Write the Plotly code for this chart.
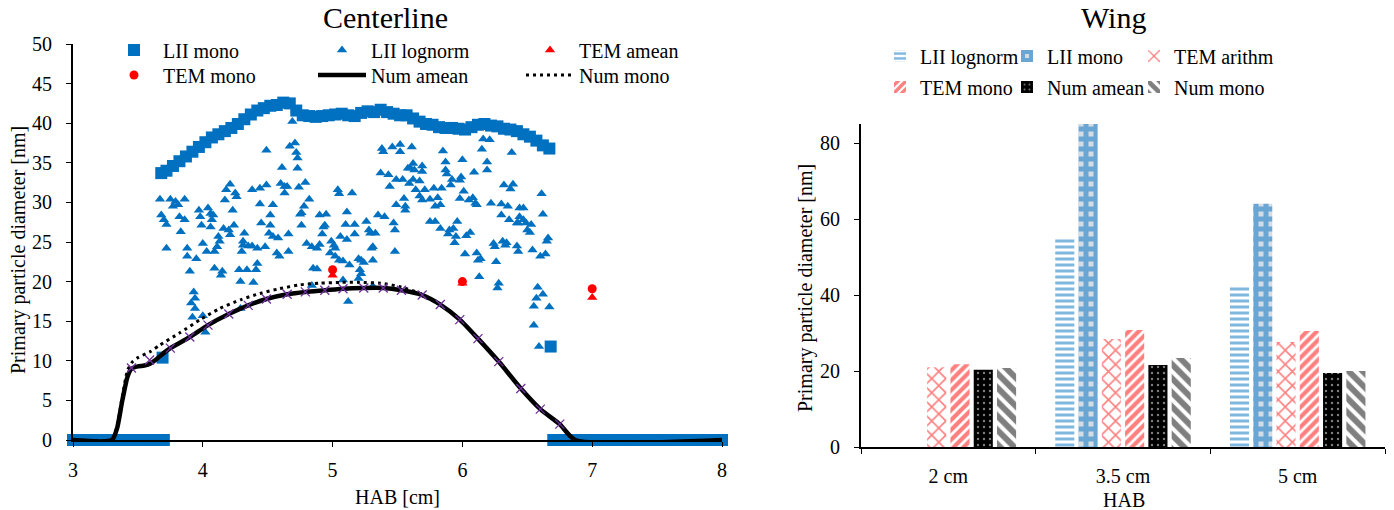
import plotly.graph_objects as go

W, H = 1394, 510
FONT = "Liberation Serif, DejaVu Serif, serif"
BLUE = "#0070C0"
RED = "#FF0000"
PURPLE = "#7030A0"

# ---------------- Centerline data ----------------
# LII zero readings (outside the sooting region)
lii_zero_hab = [3.00, 3.05, 3.10, 3.15, 3.20, 3.25, 3.30, 3.35, 3.40, 3.45, 3.50, 3.55, 3.60, 3.65, 3.70,
                6.70, 6.75, 6.80, 6.85, 6.90, 6.95, 7.00, 7.05, 7.10, 7.15, 7.20, 7.25, 7.30, 7.35, 7.40,
                7.45, 7.50, 7.55, 7.60, 7.65, 7.70, 7.75, 7.80, 7.85, 7.90, 7.95, 8.00]
lii_zero_d = [0, 0, 0, 0, 0, 0, 0, 0, 0, 0, 0, 0, 0, 0, 0,
              0, 0, 0, 0, 0, 0, 0, 0, 0, 0, 0, 0, 0, 0, 0,
              0, 0, 0, 0, 0, 0, 0, 0, 0, 0, 0, 0]

# LII mono
lii_mono_hab = [3.69, 3.68, 3.72, 3.77, 3.82, 3.87, 3.92, 3.97, 4.02, 4.07, 4.12, 4.17, 4.22, 4.27, 4.32,
                4.37, 4.42, 4.47, 4.52, 4.57, 4.62, 4.67, 4.72, 4.77, 4.82, 4.87, 4.92, 4.97, 5.02,
                5.07, 5.12, 5.17, 5.22, 5.27, 5.32, 5.37, 5.42, 5.47, 5.52, 5.57, 5.62, 5.67, 5.72,
                5.77, 5.82, 5.87, 5.92, 5.97, 6.02, 6.07, 6.12, 6.17, 6.22, 6.27, 6.32, 6.37, 6.42,
                6.47, 6.52, 6.57, 6.62, 6.67, 6.68]
lii_mono_d = [10.4, 33.7, 34.0, 34.6, 35.2, 35.8, 36.4, 37.0, 37.6, 38.2, 38.6, 39.0, 39.4, 39.9, 40.5,
              41.1, 41.6, 41.9, 42.2, 42.3, 42.6, 42.5, 41.6, 41.0, 40.9, 40.8, 40.9, 41.0, 41.1,
              41.2, 41.0, 40.9, 41.3, 41.5, 41.4, 41.7, 41.4, 41.2, 41.0, 41.0, 40.6, 40.2, 39.9,
              39.8, 39.5, 39.4, 39.4, 39.3, 39.2, 39.5, 39.8, 39.9, 39.7, 39.6, 39.3, 39.2, 39.0,
              38.6, 38.3, 37.8, 37.2, 36.8, 11.8]

# LII lognorm
lii_logn_hab = [4.69, 4.49, 4.67, 4.71, 4.72, 4.73, 4.61, 4.73, 3.67, 3.75, 3.79, 3.81, 3.86, 3.77,
                3.68, 3.70, 3.72, 3.72, 3.82, 3.86, 3.83, 3.97, 3.98, 4.04, 4.06, 4.08, 4.07, 3.99,
                4.06, 3.88, 3.88, 3.95, 3.90, 4.00, 4.03, 4.09, 4.11, 4.09, 4.15, 4.14, 4.18, 4.21,
                4.25, 4.26, 4.17, 4.23, 4.16, 4.20, 4.21, 4.24, 4.12, 4.13, 4.32, 4.31, 4.31, 4.30,
                4.35, 4.38, 4.42, 4.28, 4.29, 4.34, 4.39, 4.42, 4.41, 4.38, 4.44, 4.49, 4.44, 4.45,
                4.48, 4.52, 4.52, 4.51, 4.54, 4.54, 4.60, 4.63, 4.65, 4.63, 4.74, 4.79, 4.57, 4.59,
                4.66, 4.66, 4.58, 4.76, 4.78, 4.75, 4.76, 4.82, 4.80, 4.85, 4.88, 4.84, 4.88, 4.90,
                4.90, 4.95, 4.94, 4.93, 4.92, 4.99, 5.01, 4.98, 5.02, 5.02, 5.05, 5.04, 5.05, 5.15,
                5.11, 5.10, 5.17, 5.17, 5.06, 5.11, 5.08, 5.13, 5.08, 5.12, 5.20, 5.22, 5.24, 5.21,
                5.22, 5.20, 5.31, 5.30, 5.31, 5.26, 5.28, 5.29, 5.33, 5.35, 5.40, 5.47, 5.48, 5.48,
                5.31, 4.84, 5.38, 5.39, 5.46, 5.52, 5.52, 5.58, 5.37, 5.43, 5.44, 5.49, 5.54, 5.55,
                5.49, 5.56, 5.56, 3.93, 3.94, 3.91, 3.94, 3.92, 4.00, 4.02, 4.29,
                6.16, 6.21, 6.15, 6.38, 5.61, 5.85, 5.87, 6.00, 6.19, 6.19, 6.09, 5.87, 5.88, 5.62,
                5.60, 5.63, 5.69, 5.69, 5.62, 5.59, 5.67, 5.99, 5.98, 5.92, 5.91, 5.64, 5.67, 5.69,
                5.78, 5.71, 5.84, 5.75, 6.01, 5.98, 6.05, 6.08, 6.10, 6.11, 5.79, 5.83, 5.81, 6.32,
                6.39, 6.37, 6.22, 6.30, 6.35, 6.30, 6.44, 6.47, 6.61, 6.62, 6.36, 6.42, 6.44, 6.47,
                6.43, 6.50, 6.52, 6.53, 6.49, 5.75, 5.79, 5.83, 5.90, 5.93, 5.96, 5.89, 5.94, 5.95,
                6.03, 6.06, 6.02, 6.11, 6.12, 6.14, 6.26, 6.24, 6.25, 6.31, 6.34, 6.33, 6.42, 6.43,
                6.54, 6.60, 6.64, 6.65, 6.66, 6.13, 6.28, 6.27, 6.58, 6.57, 6.62, 6.55, 6.67, 6.55,
                6.59]
lii_logn_d = [40.2, 36.6, 37.1, 37.5, 36.3, 35.6, 34.4, 34.3, 30.4, 30.4, 30.1, 29.7, 30.4, 29.5,
              28.4, 27.8, 27.2, 24.2, 28.2, 27.8, 26.3, 29.0, 28.2, 29.3, 28.6, 28.4, 27.8, 27.1,
              26.9, 24.2, 23.2, 22.9, 21.3, 24.8, 23.8, 23.8, 24.4, 21.7, 21.3, 20.8, 31.6, 32.3,
              31.2, 30.7, 30.3, 29.0, 26.7, 26.5, 25.9, 27.1, 25.7, 25.1, 26.1, 25.1, 24.6, 23.8,
              24.5, 24.5, 24.2, 21.5, 20.0, 21.5, 19.9, 22.3, 21.5, 31.6, 31.8, 32.2, 29.8, 27.4,
              24.4, 28.4, 27.1, 26.1, 25.7, 29.7, 32.4, 32.0, 32.0, 31.2, 31.9, 32.5, 23.6, 23.2,
              23.8, 26.0, 25.5, 28.7, 29.5, 28.5, 27.1, 30.4, 24.8, 21.7, 21.6, 24.4, 24.2, 24.7,
              28.4, 28.5, 27.1, 26.9, 26.0, 25.1, 24.6, 23.6, 24.2, 23.2, 22.7, 31.6, 31.1, 31.2,
              28.8, 27.2, 27.2, 26.0, 25.7, 25.3, 22.6, 22.1, 20.2, 17.5, 22.9, 22.7, 22.4, 21.5,
              21.0, 20.4, 22.7, 24.2, 24.4, 27.6, 26.5, 26.1, 26.1, 28.4, 28.2, 27.4, 26.5, 23.8,
              19.4, 19.5, 36.8, 36.4, 37.0, 37.3, 36.4, 34.3, 33.7, 33.5, 32.0, 32.9, 32.9, 30.5,
              29.7, 29.5, 29.0, 18.7, 17.9, 17.3, 16.6, 15.5, 15.7, 13.6, 16.6,
              38.0, 37.9, 36.7, 36.3, 37.0, 36.5, 35.1, 35.4, 35.1, 34.1, 33.8, 34.1, 33.6, 34.9,
              34.3, 34.1, 34.6, 33.9, 32.9, 32.4, 32.7, 33.2, 32.8, 32.9, 32.2, 31.6, 30.8, 30.3,
              31.8, 31.6, 31.8, 30.4, 31.4, 30.5, 30.3, 30.6, 29.9, 29.7, 29.5, 29.7, 30.6, 32.2,
              32.3, 31.7, 29.9, 29.8, 29.5, 28.4, 29.3, 29.3, 31.1, 28.5, 27.8, 27.4, 28.2, 27.8,
              27.4, 26.5, 26.2, 27.2, 27.4, 27.6, 27.6, 26.7, 26.5, 26.7, 27.6, 26.0, 24.9, 25.7,
              25.8, 26.2, 23.5, 23.6, 22.7, 22.9, 22.5, 24.8, 24.4, 25.1, 24.9, 24.6, 24.5, 23.8,
              24.0, 23.2, 23.5, 25.1, 25.5, 20.6, 19.8, 19.2, 19.3, 17.9, 18.4, 16.9, 16.8, 14.5,
              11.8]

# TEM
tem_hab = [5.0, 6.0, 7.0]
tem_amean = [20.8, 19.8, 18.0]
tem_mono = [21.5, 20.0, 19.1]

# Numerical
num_amean_hab = [3.00, 3.30, 3.34, 3.38, 3.42, 3.45, 3.50, 3.55, 3.60, 3.65, 3.70, 3.75, 3.90, 4.04,
                 4.20, 4.35, 4.49, 4.65, 4.79, 4.94, 5.08, 5.24, 5.39, 5.53, 5.69, 5.83, 5.98, 6.12,
                 6.28, 6.45, 6.60, 6.75, 6.87, 8.00]
num_amean = [0.0, 0.0, 1.5, 5.0, 8.0, 9.0, 9.3, 9.4, 9.7, 10.3, 11.0, 11.6, 13.0, 14.5,
             15.9, 17.0, 17.8, 18.4, 18.7, 18.9, 19.1, 19.2, 19.2, 18.9, 18.3, 17.1, 15.2, 12.8,
             9.9, 6.5, 3.9, 2.0, 0.0, 0.0]
num_mono_hab = [3.00, 3.30, 3.34, 3.38, 3.42, 3.46, 3.50, 3.60, 3.67, 3.82, 3.98, 4.13, 4.29, 4.44,
                4.59, 4.75, 4.90, 5.06, 5.21, 5.37, 5.53, 5.69, 5.83, 5.98, 6.12, 6.28, 6.45, 6.60,
                6.75, 6.87, 8.00]
num_mono = [0.0, 0.0, 1.8, 5.5, 8.8, 9.9, 10.4, 11.2, 12.0, 13.5, 15.2, 16.6, 17.7, 18.5,
            19.1, 19.6, 19.8, 19.9, 19.9, 19.8, 19.3, 18.4, 17.1, 15.2, 12.8, 9.9, 6.5, 3.9,
            2.0, 0.0, 0.0]
num_mark_hab = [3.45, 3.59, 3.75, 3.90, 4.04, 4.20, 4.35, 4.49, 4.65, 4.79, 4.94, 5.08, 5.24, 5.39,
                5.53, 5.69, 5.83, 5.98, 6.12, 6.28, 6.45, 6.60, 6.75]
num_mark = [9.1, 10.1, 11.6, 13.0, 14.5, 15.9, 17.0, 17.8, 18.4, 18.7, 18.9, 19.1, 19.2, 19.2,
            18.9, 18.3, 17.1, 15.2, 12.8, 9.9, 6.5, 3.9, 2.0]

# ---------------- Wing data ----------------
wing_cats = ["2 cm", "3.5 cm", "5 cm"]
wing_lii_lognorm = [None, 55.0, 42.4]
wing_lii_mono = [None, 85.0, 64.0]
wing_tem_arithm = [21.0, 28.4, 27.6]
wing_tem_mono = [21.8, 30.8, 30.5]
wing_num_amean = [20.3, 21.6, 19.5]
wing_num_mono = [20.8, 23.4, 20.0]


def px_x(v):
    return v / W


def px_y(v):
    return 1 - v / H


fig = go.Figure()

# ---- left panel ----
fig.add_trace(go.Scatter(x=lii_zero_hab + lii_mono_hab, y=lii_zero_d + lii_mono_d, mode="markers",
                         name="LII mono", legend="legend",
                         marker=dict(symbol="square", size=12, color=BLUE),
                         cliponaxis=False, xaxis="x", yaxis="y"))
fig.add_trace(go.Scatter(x=lii_zero_hab + lii_logn_hab, y=lii_zero_d + lii_logn_d, mode="markers",
                         name="LII lognorm", legend="legend",
                         marker=dict(symbol="triangle-up", size=9, color=BLUE),
                         cliponaxis=False, xaxis="x", yaxis="y"))
fig.add_trace(go.Scatter(x=tem_hab, y=tem_amean, mode="markers", name="TEM amean", legend="legend",
                         marker=dict(symbol="triangle-up", size=9, color=RED), xaxis="x", yaxis="y"))
fig.add_trace(go.Scatter(x=tem_hab, y=tem_mono, mode="markers", name="TEM mono", legend="legend2",
                         marker=dict(symbol="circle", size=9, color=RED), xaxis="x", yaxis="y"))
fig.add_trace(go.Scatter(x=num_amean_hab, y=num_amean, mode="lines", name="Num amean", legend="legend2",
                         line=dict(color="black", width=4.5, shape="spline", smoothing=0.6),
                         xaxis="x", yaxis="y"))
fig.add_trace(go.Scatter(x=num_mono_hab, y=num_mono, mode="lines", name="Num mono", legend="legend2",
                         line=dict(color="black", width=3, dash="3px,4px", shape="spline", smoothing=0.6),
                         xaxis="x", yaxis="y"))
fig.add_trace(go.Scatter(x=num_mark_hab, y=num_mark, mode="markers", showlegend=False,
                         marker=dict(symbol="x-thin", size=9, line=dict(color=PURPLE, width=1.3)),
                         xaxis="x", yaxis="y"))

# ---- right panel ----
bar_specs = [
    ("LII lognorm", wing_lii_lognorm, dict(shape="-", fgcolor=BLUE, bgcolor="white", size=6, solidity=0.5), "legend3"),
    ("LII mono", wing_lii_mono, dict(shape="+", fgcolor=BLUE, bgcolor="#d4dce6", size=10, solidity=0.75), "legend3"),
    ("TEM arithm", wing_tem_arithm, dict(shape="x", fgcolor=RED, bgcolor="white", size=10, solidity=0.3), "legend3"),
    ("TEM mono", wing_tem_mono, dict(shape="/", fgcolor=RED, bgcolor="white", size=7, solidity=0.6), "legend4"),
    ("Num amean", wing_num_amean, dict(shape=".", fgcolor="white", bgcolor="black", size=6, solidity=0.12), "legend4"),
    ("Num mono", wing_num_mono, dict(shape="\\", fgcolor="black", bgcolor="white", size=10, solidity=0.6), "legend4"),
]
for name, vals, pat, lg in bar_specs:
    fig.add_trace(go.Bar(x=wing_cats, y=vals, name=name, legend=lg,
                         marker=dict(color=pat["fgcolor"], line=dict(width=0), pattern=pat),
                         xaxis="x2", yaxis="y2"))
# invisible spacer entries so the last legend column is not clipped
for lg in ["legend3", "legend4"]:
    fig.add_trace(go.Scatter(x=[None], y=[None], mode="markers", name=" ", legend=lg,
                             marker=dict(color="rgba(0,0,0,0)", size=1), hoverinfo="skip",
                             xaxis="x2", yaxis="y2"))

tickfont = dict(family=FONT, size=20, color="black")
axis_common = dict(showline=True, linecolor="black", linewidth=2, ticks="outside", ticklen=5,
                   tickcolor="black", tickwidth=1, showgrid=False, zeroline=False, tickfont=tickfont,
                   automargin=False)

legend_common = dict(orientation="h", font=dict(family=FONT, size=20, color="black"),
                     bgcolor="rgba(0,0,0,0)", xanchor="left", yanchor="middle",
                     entrywidthmode="pixels", tracegroupgap=0)

fig.update_layout(
    width=W, height=H, margin=dict(l=0, r=0, t=0, b=0, autoexpand=False),
    paper_bgcolor="white", plot_bgcolor="white",
    font=dict(family=FONT, size=20, color="black"),
    barmode="group", bargap=0.2, bargroupgap=0.18,
    xaxis=dict(domain=[px_x(73), px_x(722)], range=[3, 8], dtick=1, anchor="y",
               ticklabelstandoff=6, **axis_common),
    yaxis=dict(domain=[px_y(440), px_y(44)], range=[0, 50], dtick=5, anchor="x",
               ticklabelstandoff=10, **axis_common),
    xaxis2=dict(domain=[px_x(861), px_x(1385)], anchor="y2", tickson="boundaries",
                ticklabelstandoff=10, **axis_common),
    yaxis2=dict(domain=[px_y(447), px_y(124)], range=[0, 85], tickvals=[0, 20, 40, 60, 80],
                anchor="x2", ticklabelstandoff=10, **axis_common),
    legend=dict(x=px_x(105), y=px_y(50), itemwidth=48, entrywidth=145, **legend_common),
    legend2=dict(x=px_x(105), y=px_y(75), itemwidth=48, entrywidth=145, **legend_common),
    legend3=dict(x=px_x(880), y=px_y(56), itemwidth=30, entrywidth=82, **legend_common),
    legend4=dict(x=px_x(880), y=px_y(87), itemwidth=30, entrywidth=82, **legend_common),
    showlegend=True,
)

ann_font = dict(family=FONT, size=20, color="black")
fig.add_annotation(text="Centerline", x=px_x(385), y=px_y(18), xref="paper", yref="paper",
                   showarrow=False, xanchor="center", yanchor="middle",
                   font=dict(family=FONT, size=30, color="black"))
fig.add_annotation(text="Wing", x=px_x(1113), y=px_y(18), xref="paper", yref="paper",
                   showarrow=False, xanchor="center", yanchor="middle",
                   font=dict(family=FONT, size=30, color="black"))
fig.add_annotation(text="HAB [cm]", x=px_x(397), y=px_y(497), xref="paper", yref="paper",
                   showarrow=False, xanchor="center", yanchor="middle", font=ann_font)
fig.add_annotation(text="HAB", x=px_x(1124), y=px_y(500), xref="paper", yref="paper",
                   showarrow=False, xanchor="center", yanchor="middle", font=ann_font)
fig.add_annotation(text="Primary particle diameter [nm]", x=px_x(18), y=px_y(250), xref="paper",
                   yref="paper", showarrow=False, textangle=-90, xanchor="center", yanchor="middle",
                   font=ann_font)
fig.add_annotation(text="Primary particle diameter [nm]", x=px_x(805), y=px_y(288), xref="paper",
                   yref="paper", showarrow=False, textangle=-90, xanchor="center", yanchor="middle",
                   font=ann_font)

fig.write_html("out.html", config={"displayModeBar": False},
               post_script="document.body.style.margin='0px';")
